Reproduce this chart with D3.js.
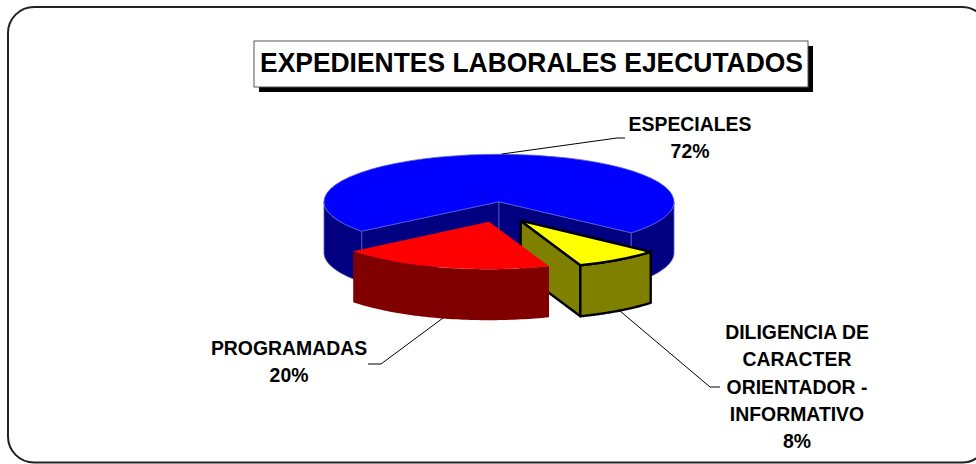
<!doctype html>
<html lang="en">
  <head>
    <meta charset="UTF-8" />
    <title>Expedientes laborales ejecutados</title>
    <script src="https://d3js.org/d3.v7.min.js"></script>
    <style>
      body {
        margin: 0;
        background: #fff;
      }

      svg {
        display: block;
      }

      text {
        font-family: 'Liberation Sans', Arial, sans-serif;
        font-weight: bold;
        fill: #000;
      }

      .title {
        font-size: 28.5px;
      }

      .label {
        font-size: 19.4px;
        text-anchor: middle;
      }

      .leader {
        fill: none;
        stroke: #000;
        stroke-width: 1;
      }
    </style>
  </head>
  <body>
    <svg id="chart" width="976" height="464"></svg>

    <script>
      // Chart values
      const titleText = 'EXPEDIENTES LABORALES EJECUTADOS'
      const categories = ['ESPECIALES', 'DILIGENCIA', 'PROGRAMADAS']
      const values = [72, 8, 20]
      const labelLines = [
        ['ESPECIALES'],
        ['DILIGENCIA DE', 'CARACTER', 'ORIENTADOR -', 'INFORMATIVO'],
        ['PROGRAMADAS'],
      ]

      // Colours per slice, top face and side wall
      const topColor = d3.scaleOrdinal(categories, ['#0000ff', '#ffff00', '#ff0000'])
      const wallColor = d3.scaleOrdinal(categories, ['#000080', '#808000', '#800000'])

      // Pie geometry
      const cx = 499
      const cy = 201.7
      const ry = 47.5
      const depth = 51
      const radius = { ESPECIALES: 175, DILIGENCIA: 172, PROGRAMADAS: 173 }
      const explode = {
        ESPECIALES: [0, 0],
        DILIGENCIA: [21.7, 19],
        PROGRAMADAS: [-10, 20],
      }

      // Label and leader placement
      const labelPos = {
        ESPECIALES: { x: 690, y: 131, leader: [[502, 154], [617, 138], [625, 138]] },
        DILIGENCIA: { x: 797, y: 339, leader: [[620, 311], [710, 387], [720, 387]] },
        PROGRAMADAS: { x: 289, y: 355, leader: [[443, 318], [381, 364], [368, 364]] },
      }

      const svg = d3.select('#chart')

      // Outer rounded frame, its right edge runs off the page
      svg
        .append('rect')
        .attr('x', 8)
        .attr('y', 7)
        .attr('width', 980)
        .attr('height', 455.5)
        .attr('rx', 26)
        .attr('fill', '#fff')
        .attr('stroke', '#222')
        .attr('stroke-width', 2)

      // Title box with drop shadow
      svg.append('rect').attr('x', 259).attr('y', 46).attr('width', 554).attr('height', 46).attr('fill', '#000')
      svg
        .append('rect')
        .attr('x', 254)
        .attr('y', 41)
        .attr('width', 554)
        .attr('height', 46)
        .attr('fill', '#fff')
        .attr('stroke', '#555')
        .attr('stroke-width', 1)
      svg
        .append('text')
        .attr('class', 'title')
        .attr('x', 260)
        .attr('y', 72)
        .attr('textLength', 543)
        .attr('lengthAdjust', 'spacingAndGlyphs')
        .text(titleText)

      const pie = d3
        .pie()
        .sort(null)
        .value((d) => d.value)
        .startAngle((231.7 * Math.PI) / 180)
        .endAngle((231.7 * Math.PI) / 180 + 2 * Math.PI)

      const slices = pie(categories.map((name, i) => ({ name, value: values[i] })))

      const line = d3.line()

      function frontRange(d) {
        // visible outer wall runs from 90deg to 270deg
        const full = 2 * Math.PI
        const ranges = []
        for (const k of [0, 1]) {
          const lo = Math.max(d.startAngle, Math.PI / 2 + k * full)
          const hi = Math.min(d.endAngle, (3 * Math.PI) / 2 + k * full)
          if (hi > lo) ranges.push([lo, hi])
        }
        return ranges
      }

      const lineFor = {
        ESPECIALES: { stroke: '#5a5ad0', width: 0.8 },
        DILIGENCIA: { stroke: '#000', width: 2.4 },
        PROGRAMADAS: { stroke: 'none', width: 0 },
      }

      // Blue first, then yellow, red sits in front of both
      const drawOrder = ['ESPECIALES', 'DILIGENCIA', 'PROGRAMADAS']

      drawOrder.forEach((name) => {
        const d = slices.find((s) => s.data.name === name)
        const [dx, dy] = explode[name]
        const rx = radius[name]
        const rimX = (a) => rx * Math.sin(a)
        const rimY = (a) => -ry * Math.cos(a)
        const arc = d3.arc().innerRadius(0).outerRadius(rx)
        const g = svg.append('g').attr('transform', `translate(${cx + dx},${cy + dy})`)
        const style = lineFor[name]

        // Outer wall between two angles
        const wallPath = (a0, a1) => {
          const steps = d3.range(0, 61).map((i) => a0 + ((a1 - a0) * i) / 60)
          const top = steps.map((a) => [rimX(a), rimY(a)])
          const bottom = steps.map((a) => [rimX(a), rimY(a) + depth]).reverse()
          return line(top.concat(bottom)) + 'Z'
        }

        // Flat wall from the pie centre out to the rim at one angle
        const cutPath = (a) =>
          line([
            [0, 0],
            [rimX(a), rimY(a)],
            [rimX(a), rimY(a) + depth],
            [0, depth],
          ]) + 'Z'

        const addWall = (path) =>
          g
            .append('path')
            .attr('d', path)
            .attr('fill', wallColor(name))
            .attr('stroke', style.stroke)
            .attr('stroke-width', style.width)
            .attr('stroke-linejoin', 'round')

        // cut faces that can be seen: both for the big slice, end-side for the yellow one
        if (name === 'ESPECIALES') {
          addWall(cutPath(d.startAngle))
          addWall(cutPath(d.endAngle))
        }
        if (name === 'DILIGENCIA') {
          addWall(cutPath(d.endAngle))
        }

        frontRange(d).forEach(([a0, a1]) => addWall(wallPath(a0, a1)))

        g.append('path')
          .attr('d', arc(d))
          .attr('transform', `scale(1,${ry / rx})`)
          .attr('fill', topColor(name))
          .attr('stroke', style.stroke)
          .attr('stroke-width', style.width)
          .attr('stroke-linejoin', 'round')
          .attr('vector-effect', 'non-scaling-stroke')
      })

      // Leader lines and labels
      categories.forEach((name, i) => {
        const pos = labelPos[name]
        svg.append('path').attr('class', 'leader').attr('d', line(pos.leader))
        const rows = labelLines[i].concat(`${values[i]}%`)
        svg
          .append('text')
          .attr('class', 'label')
          .selectAll('tspan')
          .data(rows)
          .enter()
          .append('tspan')
          .attr('x', pos.x)
          .attr('y', (r, k) => pos.y + k * 27.3)
          .text((r) => r)
      })
    </script>
  </body>
</html>
